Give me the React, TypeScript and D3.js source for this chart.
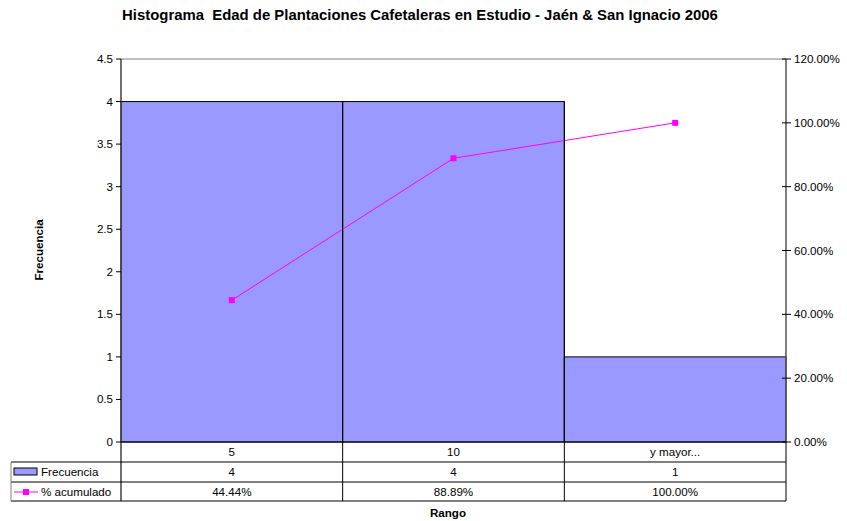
import React from "react";
import * as d3 from "d3";

const categories = ["5", "10", "y mayor..."];
const frequency = [4, 4, 1];
const cumulative = [44.44, 88.89, 100.0];
const leftTicks = [0, 0.5, 1, 1.5, 2, 2.5, 3, 3.5, 4, 4.5];
const rightTicks = [0, 20, 40, 60, 80, 100, 120];
const title = "Histograma  Edad de Plantaciones Cafetaleras en Estudio - Jaén & San Ignacio 2006";

const W = 847, H = 521;
const plot = { left: 121, right: 786, top: 59, bottom: 442 };
const rowH = [20, 20, 19];
const legendLeft = 11;
const font = "'Liberation Sans', Arial, sans-serif";
const fs = 11.6;

export default function App() {
  const x = d3.scaleBand<string>().domain(categories).range([plot.left, plot.right]).padding(0);
  const y = d3.scaleLinear().domain([0, 4.5]).range([plot.bottom, plot.top]);
  const y2 = d3.scaleLinear().domain([0, 120]).range([plot.bottom, plot.top]);
  const line = d3.line<number>().x((_, i) => x(categories[i])! + x.bandwidth() / 2).y((d) => y2(d));
  const r0 = plot.bottom, r1 = r0 + rowH[0], r2 = r1 + rowH[1], r3 = r2 + rowH[2];
  const cx = (c: string) => x(c)! + x.bandwidth() / 2;
  const fmtPct = (v: number) => v.toFixed(2) + "%";
  return (
    <svg width={W} height={H} style={{ position: "absolute", left: 0, top: 0, background: "#fff" }} fontFamily={font}>
      <text x={420} y={20} textAnchor="middle" fontSize={14.9} fontWeight="bold" style={{ whiteSpace: "pre" }}>{title}</text>
      {/* top gridline */}
      <line x1={plot.left} x2={plot.right} y1={y(4.5)} y2={y(4.5)} stroke="#808080" />
      {/* bars */}
      {frequency.map((v, i) => (
        <rect key={i} x={x(categories[i])} y={y(v)} width={x.bandwidth()} height={y(0) - y(v)} fill="#9999FF" stroke="#000" strokeWidth={1} />
      ))}
      {/* left axis */}
      <line x1={plot.left} x2={plot.left} y1={plot.top} y2={r3} stroke="#404040" strokeWidth={1.5} />
      {leftTicks.map((t) => (
        <g key={t}>
          <line x1={plot.left - 5} x2={plot.left} y1={y(t)} y2={y(t)} stroke="#000" />
          <text x={plot.left - 8} y={y(t) + 4} textAnchor="end" fontSize={fs}>{t}</text>
        </g>
      ))}
      {/* right axis */}
      <line x1={plot.right} x2={plot.right} y1={plot.top} y2={r3} stroke="#555" strokeWidth={1.5} />
      {rightTicks.map((t) => (
        <g key={t}>
          <line x1={plot.right - 4} x2={plot.right + 5} y1={y2(t)} y2={y2(t)} stroke="#000" />
          <text x={plot.right + 8} y={y2(t) + 4} textAnchor="start" fontSize={fs}>{t.toFixed(2)}%</text>
        </g>
      ))}
      {/* cumulative line */}
      <path d={line(cumulative) || ""} fill="none" stroke="#FF00FF" strokeWidth={1} />
      {cumulative.map((v, i) => (
        <rect key={i} x={cx(categories[i]) - 3} y={y2(v) - 3} width={6} height={6} fill="#FF00FF" />
      ))}
      {/* data table */}
      <line x1={plot.left} x2={plot.right} y1={r0} y2={r0} stroke="#000" />
      <line x1={legendLeft} x2={plot.right} y1={r1} y2={r1} stroke="#000" />
      <line x1={legendLeft} x2={plot.right} y1={r2} y2={r2} stroke="#000" />
      <line x1={legendLeft} x2={plot.right} y1={r3} y2={r3} stroke="#000" />
      <line x1={legendLeft} x2={legendLeft} y1={r1} y2={r3} stroke="#808080" />
      {categories.slice(1).map((c) => (
        <line key={c} x1={x(c)} x2={x(c)} y1={y(4)} y2={r3} stroke="#000" />
      ))}
      {categories.map((c, i) => (
        <g key={c}>
          <text x={cx(c)} y={r0 + 14} textAnchor="middle" fontSize={fs}>{c}</text>
          <text x={cx(c)} y={r1 + 14} textAnchor="middle" fontSize={fs}>{frequency[i]}</text>
          <text x={cx(c)} y={r2 + 14} textAnchor="middle" fontSize={fs}>{fmtPct(cumulative[i])}</text>
        </g>
      ))}
      {/* legend keys */}
      <rect x={14} y={r1 + 6} width={23} height={7} fill="#9999FF" stroke="#000" strokeWidth={1} />
      <text x={41} y={r1 + 14} fontSize={fs}>Frecuencia</text>
      <line x1={14} x2={38} y1={r2 + 10} y2={r2 + 10} stroke="#FF00FF" />
      <rect x={23} y={r2 + 7} width={6} height={6} fill="#FF00FF" />
      <text x={41} y={r2 + 14} fontSize={fs}>% acumulado</text>
      {/* axis titles */}
      <text transform={`translate(43,250) rotate(-90)`} textAnchor="middle" fontSize={fs} fontWeight="bold">Frecuencia</text>
      <text x={448} y={517} textAnchor="middle" fontSize={fs} fontWeight="bold">Rango</text>
    </svg>
  );
}
